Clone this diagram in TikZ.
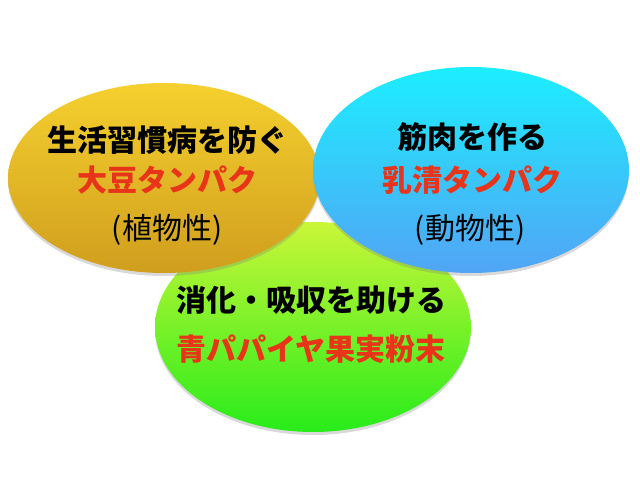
\documentclass[tikz,border=0pt]{standalone}
\usepackage{fontspec}
\usepackage{xcolor}
\usetikzlibrary{shapes.geometric,shadows}
\newfontfamily\jpfont{Noto Sans CJK JP}

\definecolor{soytop}{RGB}{245,208,46}
\definecolor{soybot}{RGB}{208,158,30}
\definecolor{wheytop}{RGB}{28,238,255}
\definecolor{wheybot}{RGB}{82,164,245}
\definecolor{papayatop}{RGB}{202,246,56}
\definecolor{papayabot}{RGB}{40,236,26}
\definecolor{productred}{RGB}{232,52,24}

\begin{document}
\begin{tikzpicture}[x=1pt, y=1pt,
    blob/.style={ellipse, inner sep=0pt,
        drop shadow={shadow xshift=0pt, shadow yshift=-3pt, opacity=0.3}},
    headline/.style={font=\jpfont\bfseries\fontsize{30}{30}\selectfont},
    product/.style={headline, text=productred},
    source/.style={font=\jpfont\fontsize{30}{30}\selectfont}]

    \useasboundingbox (0,0) rectangle (640,480);

    % Draw the three ellipses, bottom one first
    \node[blob, minimum width=316pt, minimum height=210pt,
        top color=papayatop, bottom color=papayabot] (papaya) at (313,153) {};
    \node[blob, minimum width=312pt, minimum height=190pt,
        top color=soytop, bottom color=soybot] (soy) at (164,302) {};
    \node[blob, minimum width=316pt, minimum height=206pt,
        top color=wheytop, bottom color=wheybot] (whey) at (471,310) {};

    % Texts of the left ellipse
    \node[headline] (soyhead) at (167,340) {生活習慣病を防ぐ};
    \node[product] (soyname) at (167,299.5) {大豆タンパク};
    \node[source] (soysrc) at (167,250.5) {(植物性)};

    % Texts of the right ellipse
    \node[headline] (wheyhead) at (472,342.5) {筋肉を作る};
    \node[product] (wheyname) at (472,299.5) {乳清タンパク};
    \node[source] (wheysrc) at (470,250.5) {(動物性)};

    % Texts of the bottom ellipse
    \node[headline] (papayahead) at (311,180) {消化・吸収を助ける};
    \node[product] (papayaname) at (311,131) {青パパイヤ果実粉末};

\end{tikzpicture}
\end{document}
